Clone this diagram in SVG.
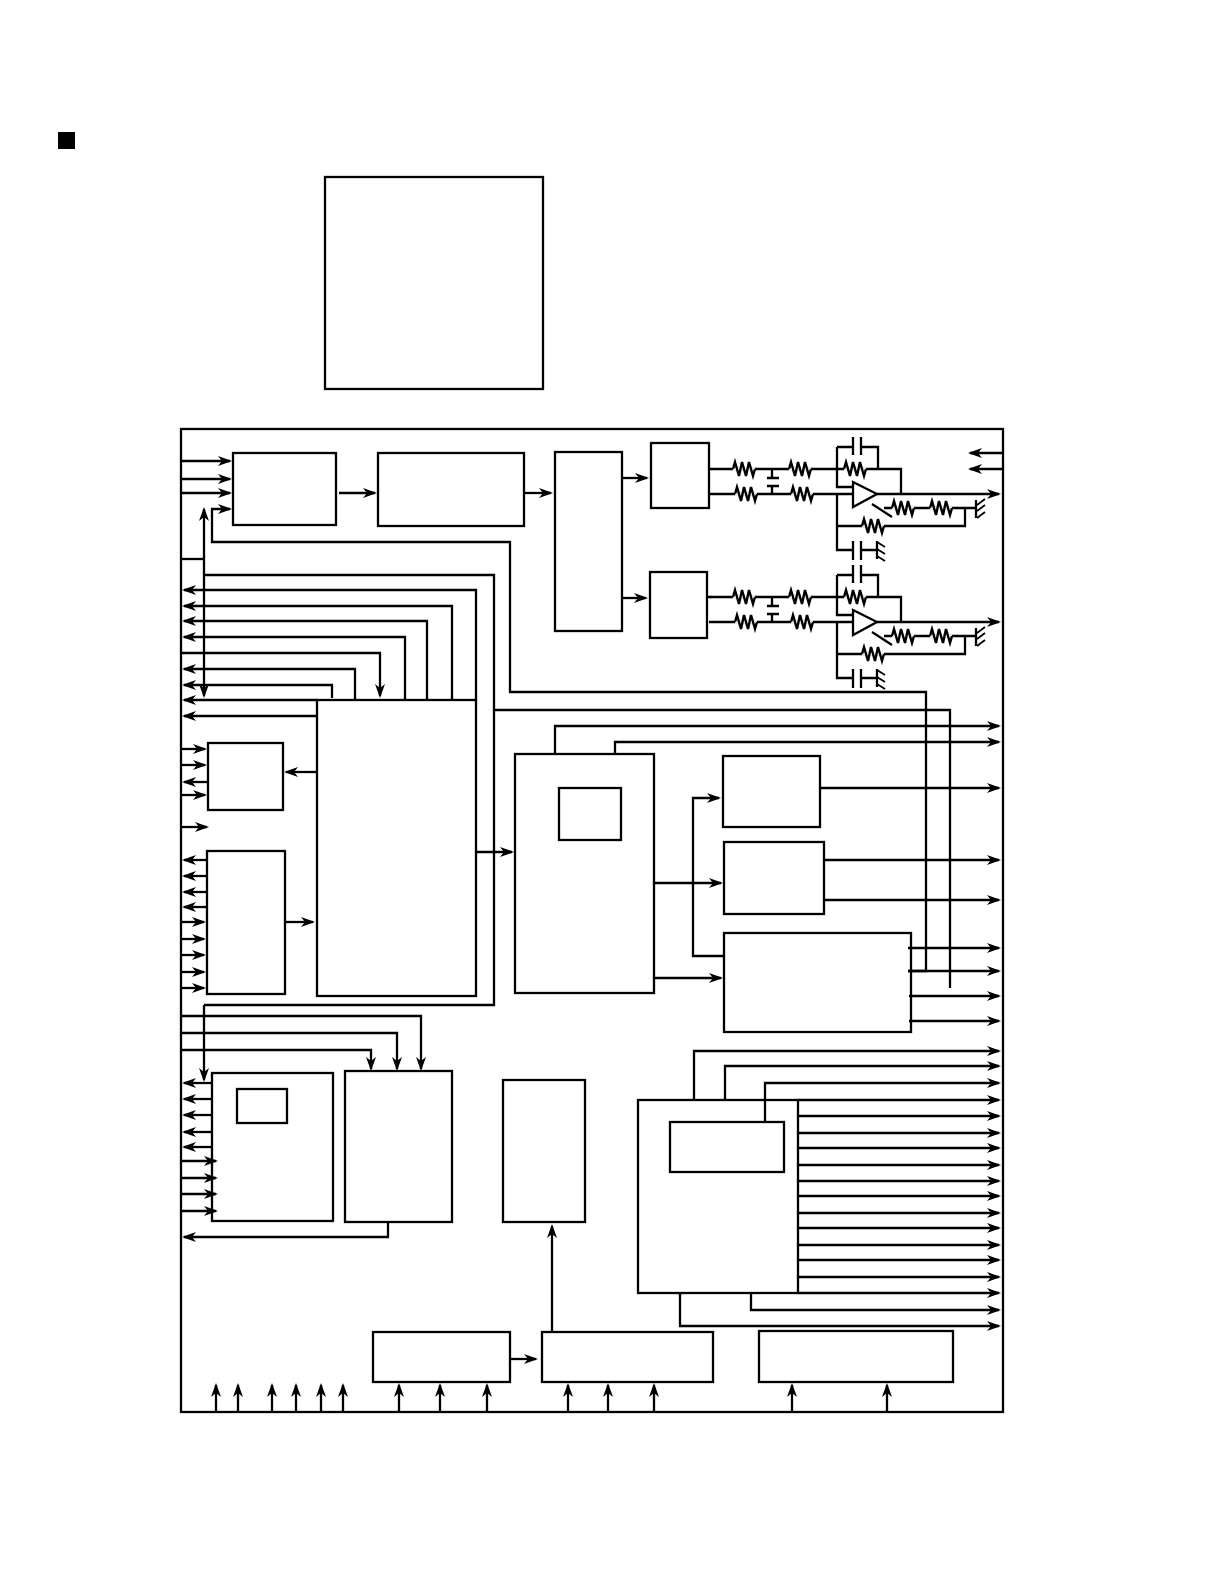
<svg xmlns="http://www.w3.org/2000/svg" width="1224" height="1584" viewBox="0 0 1224 1584">
<style>
.b{fill:none;stroke:#000;stroke-width:2.3}
.w{fill:none;stroke:#000;stroke-width:2.3}
.a{fill:none;stroke:#000;stroke-width:2.3;marker-end:url(#ah)}
.t{fill:none;stroke:#000;stroke-width:1.8}
</style>
<defs>
<marker id="ah" markerUnits="userSpaceOnUse" markerWidth="18" markerHeight="14" viewBox="-13 -7 18 14" refX="0" refY="0" orient="auto-start-reverse" overflow="visible"><path d="M-12,-5 L2,0 L-12,5 L-8,0 Z" fill="#000"/></marker>
<g id="res"><path d="M-11,0 H11" fill="none" stroke="#fff" stroke-width="3"/><path fill="none" stroke="#000" stroke-width="2.4" d="M-11,0 L-9,-7 L-5,7 L-2,-7 L2,7 L5,-7 L9,7 L11,0"/></g>
<g id="ampc">
<path class="w" d="M709,469 H837 M709,494 H853"/>
<use href="#res" x="744" y="469"/><use href="#res" x="800" y="469"/><use href="#res" x="746" y="494"/><use href="#res" x="802" y="494"/>
<path class="w" d="M772,469 V478 M767,478 H779 M767,486 H779 M772,486 V494"/>
<path class="w" d="M837,447 V487 H853 M837,494 V550 H853 M861,550 H876"/>
<path class="w" d="M837,447 H853 M853,437 V455 M861,437 V455 M861,447 H878 V469"/>
<path class="w" d="M837,469 H901 V494"/><use href="#res" x="855" y="469"/>
<path class="w" d="M853,482 L877,494 L853,507 Z" style="fill:#fff"/>
<path class="a" d="M877,494 H999"/>
<path class="w" d="M872,504 L892,517"/>
<path class="w" d="M884,508 H976 M965,508 V526 H837"/>
<use href="#res" x="903" y="508"/><use href="#res" x="941" y="508"/><use href="#res" x="873" y="526"/>
<path class="w" d="M853,541 V560 M861,541 V560 M877,541 V559 M976,500 V518"/>
<path class="t" d="M977,505 L985,499 M977,511 L985,505 M977,518 L985,512 M877,542 L885,547 M877,549 L885,554 M877,556 L885,561"/>
</g>
</defs>
<rect id="bullet" x="58" y="132" width="17" height="17" fill="#000"/>
<g id="legend"><rect class="b" x="325" y="177" width="218" height="212"/></g>
<g id="frame"><rect class="b" x="181" y="429" width="822" height="983"/></g>
<g id="box-a"><rect class="b" x="233" y="453" width="103" height="72"/></g>
<g id="box-b"><rect class="b" x="378" y="453" width="146" height="73"/></g>
<g id="box-c"><rect class="b" x="555" y="452" width="67" height="179"/></g>
<g id="amp1"><rect class="b" x="651" y="443" width="58" height="65"/></g>
<g id="amp2"><rect class="b" x="650" y="572" width="57" height="66"/></g>
<g id="circuit1"><use href="#ampc"/></g>
<g id="circuit2"><use href="#ampc" y="128"/><path class="w" d="M707,597 H712"/></g>
<g id="box-main"><rect class="b" x="317" y="700" width="159" height="296"/></g>
<g id="box-h"><rect class="b" x="208" y="743" width="75" height="67"/></g>
<g id="box-j"><rect class="b" x="207" y="851" width="78" height="143"/></g>
<g id="box-d"><rect class="b" x="515" y="754" width="139" height="239"/><rect class="b" x="559" y="788" width="62" height="52"/></g>
<g id="box-e"><rect class="b" x="723" y="756" width="97" height="71"/></g>
<g id="box-f"><rect class="b" x="724" y="842" width="100" height="72"/></g>
<g id="box-g"><rect class="b" x="724" y="933" width="187" height="99"/></g>
<g id="box-k"><rect class="b" x="212" y="1073" width="121" height="148"/><rect class="b" x="237" y="1089" width="50" height="34"/></g>
<g id="box-l"><rect class="b" x="345" y="1071" width="107" height="151"/></g>
<g id="box-o"><rect class="b" x="503" y="1080" width="82" height="142"/></g>
<g id="box-q"><rect class="b" x="638" y="1100" width="160" height="193"/><rect class="b" x="670" y="1122" width="114" height="50"/></g>
<g id="box-m"><rect class="b" x="373" y="1332" width="137" height="50"/></g>
<g id="box-n"><rect class="b" x="542" y="1332" width="171" height="50"/></g>
<g id="box-p"><rect class="b" x="759" y="1331" width="194" height="51"/></g>
<g id="connectors">
<path class="a" d="M181,461 H230"/><path class="a" d="M181,479 H230"/><path class="a" d="M181,493 H230"/>
<path class="a" d="M339,493 H375"/><path class="a" d="M524,493 H551"/>
<path class="a" d="M622,478 H647"/><path class="a" d="M622,598 H646"/>
<path class="a" d="M1003,453 H970"/><path class="a" d="M1003,469 H970"/>
<path class="a" d="M908,971 H926 V692 H510 V542 H212 V509 H230"/>
<path class="a" d="M908,971 H999"/>
<path class="w" d="M181,559 H204"/>
<path class="a" d="M204,696 V509" style="marker-start:url(#ah)"/>
<path class="w" d="M204,1005 H494 V575 H204"/>
<path class="a" d="M204,1005 V1080"/>
<path class="a" d="M476,700 V590 H184"/>
<path class="a" d="M452,700 V606 H184"/>
<path class="a" d="M427,700 V621 H184"/>
<path class="a" d="M405,700 V637 H184"/>
<path class="a" d="M181,653 H380 V696"/>
<path class="a" d="M355,700 V669 H184"/>
<path class="a" d="M332,698 V685 H184"/>
<path class="a" d="M317,700 H184"/>
<path class="a" d="M317,716 H184"/>
<path class="a" d="M181,749 H205"/><path class="a" d="M181,765 H205"/><path class="a" d="M208,782 H184"/><path class="a" d="M181,795 H205"/>
<path class="a" d="M181,827 H207"/>
<path class="a" d="M317,772 H286"/>
<path class="a" d="M207,860 H184"/><path class="a" d="M207,876 H184"/><path class="a" d="M207,892 H184"/><path class="a" d="M207,907 H184"/>
<path class="a" d="M181,922 H204"/><path class="a" d="M181,939 H204"/><path class="a" d="M181,955 H204"/><path class="a" d="M181,972 H204"/><path class="a" d="M181,988 H204"/>
<path class="a" d="M285,922 H313"/>
<path class="a" d="M476,852 H512"/>
<path class="w" d="M494,710 H950 V988"/>
<path class="a" d="M555,754 V726 H999"/>
<path class="a" d="M615,754 V742 H999"/>
<path class="a" d="M820,788 H999"/>
<path class="a" d="M824,860 H999"/>
<path class="a" d="M824,900 H999"/>
<path class="a" d="M908,948 H999"/>
<path class="a" d="M909,996 H999"/>
<path class="a" d="M909,1021 H999"/>
<path class="a" d="M654,883 H721"/>
<path class="a" d="M724,956 H693 V798 H719"/>
<path class="a" d="M654,978 H721"/>
<path class="a" d="M181,1016 H421 V1069"/>
<path class="a" d="M181,1033 H397 V1069"/>
<path class="a" d="M181,1050 H371 V1069"/>
<path class="a" d="M212,1083 H184"/><path class="a" d="M212,1099 H184"/><path class="a" d="M212,1115 H184"/><path class="a" d="M212,1132 H184"/><path class="a" d="M212,1147 H184"/>
<path class="a" d="M181,1161 H216"/><path class="a" d="M181,1178 H216"/><path class="a" d="M181,1194 H216"/><path class="a" d="M181,1211 H216"/>
<path class="a" d="M388,1222 V1237 H184"/>
<path class="a" d="M694,1100 V1051 H999"/>
<path class="a" d="M725,1100 V1066 H999"/>
<path class="a" d="M765,1122 V1083 H999"/>
<path class="a" d="M798,1100 H999"/><path class="a" d="M798,1116 H999"/><path class="a" d="M798,1133 H999"/><path class="a" d="M798,1148 H999"/><path class="a" d="M798,1165 H999"/><path class="a" d="M798,1181 H999"/><path class="a" d="M798,1196 H999"/><path class="a" d="M798,1213 H999"/><path class="a" d="M798,1228 H999"/><path class="a" d="M798,1245 H999"/><path class="a" d="M798,1260 H999"/><path class="a" d="M798,1277 H999"/><path class="a" d="M798,1293 H999"/>
<path class="a" d="M751,1293 V1310 H999"/>
<path class="a" d="M680,1293 V1326 H999"/>
<path class="a" d="M510,1359 H536"/>
<path class="a" d="M552,1332 V1226"/>
<path class="a" d="M216,1412 V1385"/><path class="a" d="M238,1412 V1385"/><path class="a" d="M272,1412 V1385"/><path class="a" d="M296,1412 V1385"/><path class="a" d="M321,1412 V1385"/><path class="a" d="M343,1412 V1385"/>
<path class="a" d="M399,1412 V1385"/><path class="a" d="M440,1412 V1385"/><path class="a" d="M487,1412 V1385"/>
<path class="a" d="M568,1412 V1385"/><path class="a" d="M608,1412 V1385"/><path class="a" d="M654,1412 V1385"/>
<path class="a" d="M792,1412 V1385"/><path class="a" d="M887,1412 V1385"/>
</g>
</svg>
